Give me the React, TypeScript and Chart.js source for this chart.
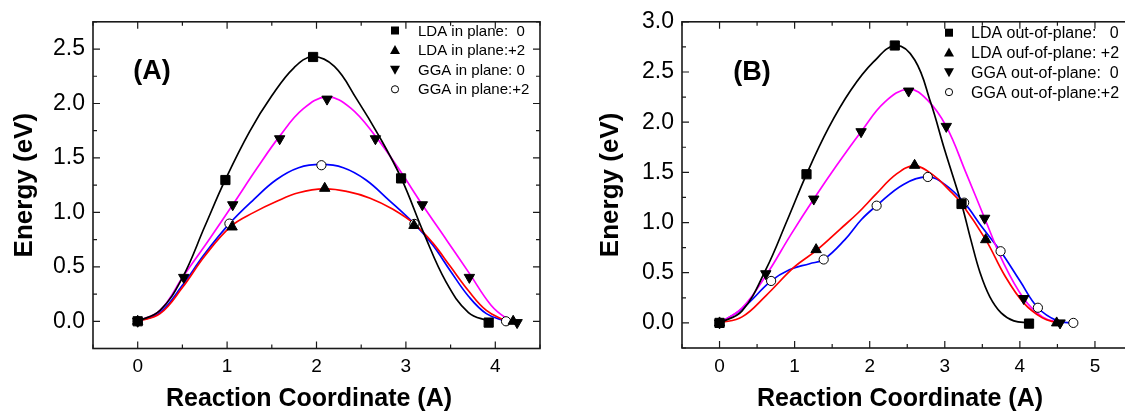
import React, { useEffect, useRef } from 'react';
import { Chart, registerables } from 'chart.js';

Chart.register(...registerables);

const FONT = "'Liberation Sans', Arial, Helvetica, sans-serif";

// ---------- Panel A: markers ----------
const aLda0 = [[0, 0], [0.981, 1.297], [1.962, 2.427], [2.946, 1.312], [3.926, -0.012]];
const aLda2 = [[0, 0], [1.056, 0.866], [2.092, 1.221], [3.09, 0.88], [4.2, 0]];
const aGga0 = [[0, 0], [0.515, 0.403], [1.063, 1.07], [1.588, 1.676], [2.118, 2.04], [2.659, 1.676], [3.184, 1.07], [3.71, 0.403], [4.244, -0.012]];
const aGga2 = [[0, 0], [1.026, 0.897], [2.055, 1.433], [3.095, 0.894], [4.12, 0]];

// ---------- Panel A: fitted curves ----------
const aLda0Curve = [[0, 0], [0.25, 0.1], [0.5, 0.4], [0.75, 0.87], [0.98, 1.3], [1.25, 1.74], [1.5, 2.07], [1.75, 2.33], [1.96, 2.43], [2.2, 2.34], [2.45, 2.04], [2.7, 1.7], [2.95, 1.31], [3.2, 0.81], [3.45, 0.36], [3.7, 0.08], [3.93, 0]];
const aLda2Curve = [[0, 0], [0.25, 0.07], [0.5, 0.31], [0.75, 0.6], [1.04, 0.87], [1.3, 1.0], [1.55, 1.1], [1.8, 1.18], [2.09, 1.215], [2.35, 1.19], [2.6, 1.13], [2.85, 1.03], [3.1, 0.89], [3.3, 0.72], [3.5, 0.5], [3.7, 0.28], [3.9, 0.1], [4.12, 0]];
const aGga0Curve = [[0, 0], [0.25, 0.1], [0.515, 0.42], [0.79, 0.74], [1.063, 1.07], [1.33, 1.4], [1.588, 1.7], [1.85, 1.95], [2.118, 2.06], [2.38, 1.96], [2.659, 1.7], [2.92, 1.4], [3.184, 1.07], [3.46, 0.74], [3.71, 0.44], [3.95, 0.15], [4.12, 0.03], [4.244, -0.01]];
const aGga2Curve = [[0, 0], [0.25, 0.08], [0.5, 0.33], [0.75, 0.62], [1.026, 0.897], [1.3, 1.12], [1.55, 1.3], [1.8, 1.41], [2.055, 1.44], [2.3, 1.41], [2.55, 1.3], [2.8, 1.12], [3.095, 0.894], [3.3, 0.7], [3.5, 0.46], [3.7, 0.23], [3.9, 0.07], [4.12, 0]];

// ---------- Panel B: markers ----------
const bLda0 = [[0, 0], [1.158, 1.481], [2.334, 2.764], [3.223, 1.185], [4.122, -0.007]];
const bLda2 = [[0, 0], [1.286, 0.73], [2.598, 1.57], [3.545, 0.829], [4.49, 0]];
const bGga0 = [[0, 0], [0.616, 0.49], [1.255, 1.234], [1.885, 1.905], [2.519, 2.31], [3.02, 1.958], [3.531, 1.043], [4.051, 0.243], [4.535, 0]];
const bGga2 = [[0, 0], [0.687, 0.418], [1.387, 0.632], [2.092, 1.168], [2.774, 1.454], [3.258, 1.198], [3.743, 0.714], [4.24, 0.151], [4.712, 0]];

// ---------- Panel B: fitted curves ----------
const bLda0Curve = [[0, 0], [0.3, 0.12], [0.616, 0.53], [0.9, 1.02], [1.158, 1.48], [1.45, 1.94], [1.75, 2.32], [2.05, 2.6], [2.35, 2.765], [2.6, 2.62], [2.81, 2.2], [3.0, 1.72], [3.223, 1.185], [3.35, 0.82], [3.47, 0.5], [3.6, 0.26], [3.75, 0.1], [3.92, 0.02], [4.122, 0]];
const bLda2Curve = [[0, 0], [0.3, 0.06], [0.616, 0.27], [1.0, 0.56], [1.286, 0.72], [1.6, 0.93], [1.85, 1.1], [2.08, 1.28], [2.35, 1.48], [2.598, 1.565], [2.85, 1.47], [3.05, 1.33], [3.223, 1.19], [3.545, 0.83], [3.8, 0.47], [4.05, 0.2], [4.3, 0.05], [4.5, 0]];
const bGga0Curve = [[0, 0], [0.3, 0.15], [0.616, 0.47], [0.95, 0.88], [1.255, 1.234], [1.57, 1.58], [1.885, 1.905], [2.2, 2.2], [2.519, 2.33], [2.77, 2.22], [3.02, 1.958], [3.28, 1.5], [3.531, 1.043], [3.78, 0.6], [4.051, 0.243], [4.3, 0.06], [4.535, 0]];
const bGga2Curve = [[0, 0], [0.3, 0.14], [0.687, 0.418], [0.93, 0.53], [1.2, 0.59], [1.387, 0.632], [1.67, 0.83], [1.89, 1.03], [2.092, 1.168], [2.45, 1.38], [2.774, 1.454], [3.0, 1.38], [3.258, 1.198], [3.5, 0.95], [3.743, 0.714], [4.0, 0.42], [4.24, 0.151], [4.5, 0.02], [4.712, 0]];

// ---------- ticks & labels ----------
const aXTicks = [0, 1, 2, 3, 4];
const aYTicks = [0, 0.5, 1.0, 1.5, 2.0, 2.5];
const bXTicks = [0, 1, 2, 3, 4, 5];
const bYTicks = [0, 0.5, 1.0, 1.5, 2.0, 2.5, 3.0];
const aLabels = ['LDA in plane:  0', 'LDA in plane:+2', 'GGA in plane: 0', 'GGA in plane:+2'];
const bLabels = ['LDA out-of-plane:   0', 'LDA ouf-of-plane: +2', 'GGA out-of-plane:  0', 'GGA out-of-plane:+2'];
const xTitle = 'Reaction Coordinate (A)';
const yTitle = 'Energy (eV)';

const lineColors = ['#000000', '#ff0000', '#ff00ff', '#0000ff'];
const markerStyles = ['square', 'up', 'down', 'circle'];

const toXY = (arr: number[][]) => arr.map(([x, y]) => ({ x, y }));

function markerDataset(pts: number[][], kind: string, label: string) {
  const base: any = {
    label,
    data: toXY(pts),
    showLine: false,
    order: 0,
    pointBorderColor: '#000',
    pointBackgroundColor: '#000',
    pointBorderWidth: 1,
    pointHoverRadius: 0,
  };
  if (kind === 'square') { base.pointStyle = 'rect'; base.pointRadius = 6.5; }
  if (kind === 'up') { base.pointStyle = 'triangle'; base.pointRadius = 6; }
  if (kind === 'down') { base.pointStyle = 'triangle'; base.pointRadius = 6; base.pointRotation = 180; }
  if (kind === 'circle') { base.pointStyle = 'circle'; base.pointRadius = 4.6; base.pointBackgroundColor = '#fff'; }
  return base;
}

function curveDataset(pts: number[][], color: string) {
  return {
    label: '',
    data: toXY(pts),
    borderColor: color,
    borderWidth: 1.7,
    pointRadius: 0,
    pointHoverRadius: 0,
    tension: 0.4,
    cubicInterpolationMode: 'default',
    fill: false,
    order: 1,
  };
}

function drawMarker(ctx: CanvasRenderingContext2D, kind: string, x: number, y: number) {
  ctx.save();
  ctx.fillStyle = '#000';
  ctx.strokeStyle = '#000';
  ctx.lineWidth = 1;
  ctx.beginPath();
  if (kind === 'square') {
    ctx.rect(x - 4, y - 4, 8, 8);
    ctx.fill();
  } else if (kind === 'up') {
    ctx.moveTo(x, y - 5);
    ctx.lineTo(x + 5, y + 4);
    ctx.lineTo(x - 5, y + 4);
    ctx.closePath();
    ctx.fill();
  } else if (kind === 'down') {
    ctx.moveTo(x, y + 5);
    ctx.lineTo(x + 5, y - 4);
    ctx.lineTo(x - 5, y - 4);
    ctx.closePath();
    ctx.fill();
  } else {
    ctx.arc(x, y, 3.6, 0, Math.PI * 2);
    ctx.fillStyle = '#fff';
    ctx.fill();
    ctx.stroke();
  }
  ctx.restore();
}

interface PanelSpec {
  markers: number[][][];
  curves: number[][][];
  labels: string[];
  xMax: number;
  yMax: number;
  xTicks: number[];
  yTicks: number[];
  yAxisWidth: number;
  titlePadTop: number;
  padRight: number;
  padTop: number;
  xAxisHeight: number;
  panelText: string;
  panelPos: [number, number];
  legendMarkerX: number;
  legendTextX: number;
  legendY0: number;
  legendDy: number;
  legendFont: number;
  xTitlePos: [number, number];
}

function makeDecor(spec: PanelSpec) {
  return {
    id: 'decor',
    beforeDatasetsDraw(chart: any) {
      const { ctx, chartArea } = chart;
      const { left, right, top, bottom } = chartArea;
      const xs = chart.scales.x;
      const ys = chart.scales.y;
      ctx.save();
      ctx.strokeStyle = '#1a1a1a';
      ctx.lineWidth = 1.6;
      ctx.strokeRect(left, top, right - left, bottom - top);
      ctx.lineWidth = 1.2;
      ctx.beginPath();
      for (let k = Math.ceil(xs.min * 2); k <= Math.floor(xs.max * 2); k++) {
        const v = k / 2;
        const px = xs.getPixelForValue(v);
        const len = k % 2 === 0 ? 7 : 4;
        ctx.moveTo(px, bottom); ctx.lineTo(px, bottom - len);
        ctx.moveTo(px, top); ctx.lineTo(px, top + len);
      }
      for (let k = Math.ceil(ys.min * 4); k <= Math.floor(ys.max * 4); k++) {
        const v = k / 4;
        const py = ys.getPixelForValue(v);
        const len = k % 2 === 0 ? 7 : 4;
        ctx.moveTo(left, py); ctx.lineTo(left + len, py);
        ctx.moveTo(right, py); ctx.lineTo(right - len, py);
      }
      ctx.stroke();
      ctx.restore();
    },
    afterDraw(chart: any) {
      const { ctx } = chart;
      ctx.save();
      ctx.fillStyle = '#000';
      ctx.font = `bold 27px ${FONT}`;
      ctx.textAlign = 'center';
      ctx.textBaseline = 'middle';
      ctx.fillText(spec.panelText, spec.panelPos[0], spec.panelPos[1]);
      ctx.font = `bold 25px ${FONT}`;
      ctx.fillText(xTitle, spec.xTitlePos[0], spec.xTitlePos[1]);
      ctx.font = `${spec.legendFont}px ${FONT}`;
      ctx.textAlign = 'left';
      spec.labels.forEach((t, i) => {
        const y = spec.legendY0 + i * spec.legendDy;
        drawMarker(ctx, markerStyles[i], spec.legendMarkerX, y);
        ctx.fillStyle = '#000';
        ctx.fillText(t, spec.legendTextX, y + 1);
      });
      ctx.restore();
    },
  };
}

function makeConfig(spec: PanelSpec): any {
  const datasets: any[] = [];
  spec.markers.forEach((m, i) => datasets.push(markerDataset(m, markerStyles[i], spec.labels[i])));
  spec.curves.forEach((c, i) => datasets.push(curveDataset(c, lineColors[i])));
  return {
    type: 'line',
    data: { datasets },
    options: {
      animation: false,
      responsive: false,
      maintainAspectRatio: false,
      events: [],
      layout: { padding: { top: spec.padTop, right: spec.padRight, bottom: 0, left: 0 } },
      plugins: { legend: { display: false }, tooltip: { enabled: false }, title: { display: false } },
      scales: {
        x: {
          type: 'linear',
          min: -0.5,
          max: spec.xMax,
          grid: { display: false, drawTicks: false },
          border: { display: false },
          afterBuildTicks: (s: any) => { s.ticks = spec.xTicks.map((v) => ({ value: v })); },
          afterFit: (s: any) => { s.height = spec.xAxisHeight; },
          ticks: {
            padding: 7,
            color: '#000',
            maxRotation: 0,
            autoSkip: false,
            font: { family: FONT, size: 19 },
            callback: (v: any) => String(v),
          },
          title: { display: false },
        },
        y: {
          type: 'linear',
          min: -0.25,
          max: spec.yMax,
          grid: { display: false, drawTicks: false },
          border: { display: false },
          afterBuildTicks: (s: any) => { s.ticks = spec.yTicks.map((v) => ({ value: v })); },
          afterFit: (s: any) => { s.width = spec.yAxisWidth; },
          ticks: {
            padding: 8,
            color: '#000',
            autoSkip: false,
            font: { family: FONT, size: 23 },
            callback: (v: any) => Number(v).toFixed(1),
          },
          title: {
            display: true,
            text: yTitle,
            color: '#000',
            font: { family: FONT, size: 26, weight: 'bold' },
            padding: { top: spec.titlePadTop, bottom: 0 },
          },
        },
      },
    },
    plugins: [makeDecor(spec)],
  };
}

const specA: PanelSpec = {
  markers: [aLda0, aLda2, aGga0, aGga2],
  curves: [aLda0Curve, aLda2Curve, aGga0Curve, aGga2Curve],
  labels: aLabels,
  xMax: 4.5,
  yMax: 2.75,
  xTicks: aXTicks,
  yTicks: aYTicks,
  yAxisWidth: 93,
  titlePadTop: 9,
  padRight: 20,
  padTop: 18.5,
  xAxisHeight: 66.5,
  panelText: '(A)',
  panelPos: [152, 72],
  legendMarkerX: 395,
  legendTextX: 418,
  legendY0: 30.5,
  legendDy: 19.6,
  legendFont: 15,
  xTitlePos: [309, 399],
};

const B_LEFT = 565;
const specB: PanelSpec = {
  markers: [bLda0, bLda2, bGga0, bGga2],
  curves: [bLda0Curve, bLda2Curve, bGga0Curve, bGga2Curve],
  labels: bLabels,
  xMax: 5.5,
  yMax: 3.0,
  xTicks: bXTicks,
  yTicks: bYTicks,
  yAxisWidth: 117,
  titlePadTop: 30,
  padRight: 4,
  padTop: 20,
  xAxisHeight: 67,
  panelText: '(B)',
  panelPos: [752 - B_LEFT, 73],
  legendMarkerX: 949 - B_LEFT,
  legendTextX: 971 - B_LEFT,
  legendY0: 32.7,
  legendDy: 19.8,
  legendFont: 16,
  xTitlePos: [900 - B_LEFT, 399],
};

function Panel({ spec, left, width }: { spec: PanelSpec; left: number; width: number }) {
  const ref = useRef<HTMLCanvasElement>(null);
  useEffect(() => {
    const chart = new Chart(ref.current as HTMLCanvasElement, makeConfig(spec));
    return () => chart.destroy();
  }, [spec]);
  return (
    <div style={{ position: 'absolute', left, top: 0, width, height: 415 }}>
      <canvas ref={ref} width={width} height={415} style={{ width, height: 415, display: 'block' }} />
    </div>
  );
}

export default function App() {
  return (
    <div style={{ position: 'fixed', left: 0, top: 0, width: 1125, height: 415, overflow: 'hidden', background: '#fff' }}>
      <Panel spec={specA} left={0} width={560} />
      <Panel spec={specB} left={B_LEFT} width={575} />
    </div>
  );
}
